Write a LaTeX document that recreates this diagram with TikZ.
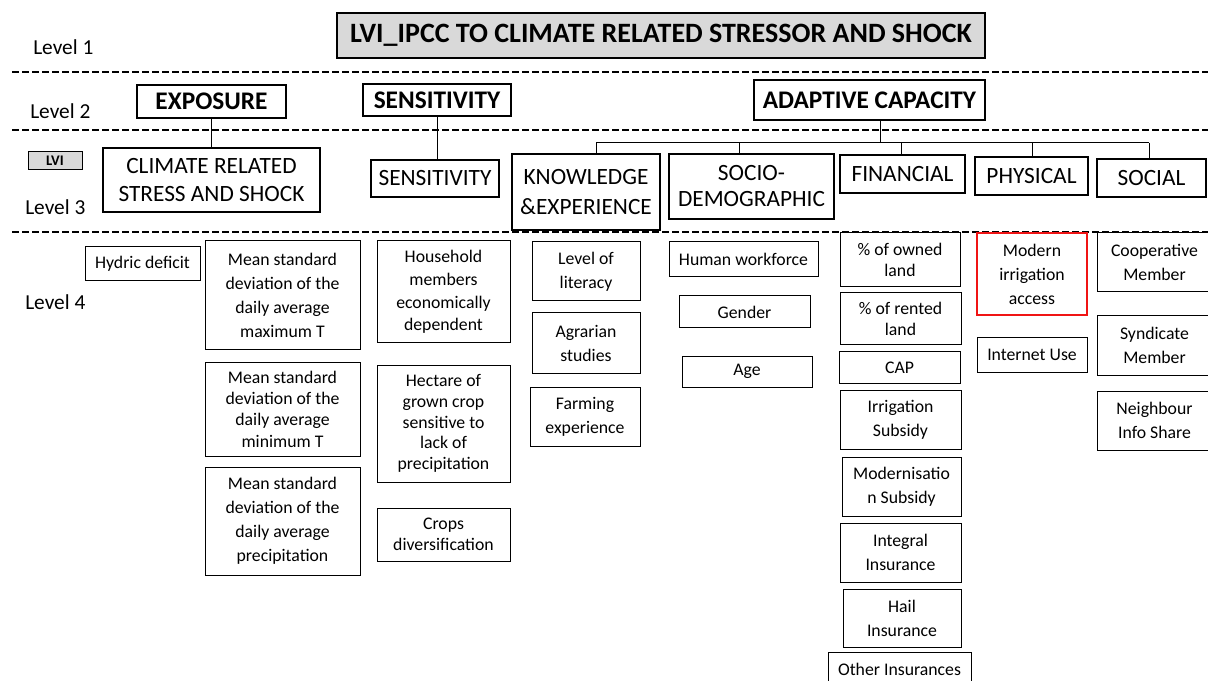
\documentclass[tikz,border=0pt]{standalone}
\usepackage{fontspec}
\setmainfont{Carlito}
\usetikzlibrary{positioning,calc}
\definecolor{titlegray}{RGB}{217,217,217}
\definecolor{markred}{RGB}{240,20,20}
\tikzset{
  wh/.style 2 args={minimum width=#1*0.75pt, minimum height=#2*0.75pt},
  lvl/.style={anchor=west, font=\fontsize{16}{18}\selectfont},
  topbox/.style={draw, fill=titlegray, line width=1pt, font=\bfseries\fontsize{21}{24}\selectfont},
  dimbox/.style={draw, line width=1pt, font=\bfseries\fontsize{19}{22}\selectfont},
  compbox/.style={draw, line width=0.9pt, align=center, font=\fontsize{17.5}{21}\selectfont},
  indbox/.style={draw, line width=0.75pt, align=center, font=\fontsize{13.3}{18}\selectfont},
  levelline/.style={line width=1.6pt, dash pattern=on 5pt off 2.5pt},
  link/.style={line width=0.75pt}
}
\begin{document}
\begin{tikzpicture}[x=0.75pt,y=-0.75pt]
\tikzstyle{every node}+=[inner sep=0pt]
\useasboundingbox (0,0) rectangle (1208,681);
\draw [levelline] (12,72) -- (1208,72);
\draw [levelline] (12,130) -- (1208,130);
\draw [levelline] (12,232) -- (1208,232);
\node [lvl] (l1) at (33,47) {Level 1};
\node [lvl] (l2) at (30,111) {Level 2};
\node [lvl] (l3) at (25,207) {Level 3};
\node [lvl] (l4) at (25,302) {Level 4};
\node [draw, fill=titlegray, line width=0.75pt, wh={54}{18}, font=\bfseries\fontsize{11}{12}\selectfont] (lvi) at (55,161) {LVI};
\node [topbox, wh={648}{45}] (title) at (661,35.5) {LVI\_IPCC TO CLIMATE RELATED STRESSOR AND SHOCK};
\node [dimbox, wh={149}{33}] (expo) at (211.5,101.5) {EXPOSURE};
\node [dimbox, wh={148}{32}] (sens) at (437,100) {SENSITIVITY};
\node [dimbox, wh={231}{40}] (adapt) at (869.5,100) {ADAPTIVE CAPACITY};
\node [compbox, wh={217}{64}] (climate) at (211.5,180) {CLIMATE RELATED\\STRESS AND SHOCK};
\node [compbox, wh={128}{37}] (sensc) at (435,178.5) {SENSITIVITY};
\node [compbox, wh={148}{76}, font=\fontsize{17.5}{23}\selectfont] (know) at (586,192) {KNOWLEDGE\\\&EXPERIENCE};
\node [compbox, wh={165}{65}, font=\fontsize{17.5}{19.5}\selectfont] (socio) at (751.5,186.5) {SOCIO-\\DEMOGRAPHIC};
\node [compbox, wh={125}{38}] (fin) at (902.5,174) {FINANCIAL};
\node [compbox, wh={113}{38}] (phys) at (1031.5,176) {PHYSICAL};
\node [compbox, wh={109}{38}] (social) at (1151.5,178) {SOCIAL};
\node [indbox, wh={115}{34}] (hydric) at (142.5,264) {Hydric deficit};
\node [indbox, wh={155}{109}] (maxt) at (282.5,295.5) {Mean standard\\deviation of the\\daily average\\maximum T};
\node [indbox, wh={155}{94}, font=\fontsize{13.3}{16}\selectfont] (mint) at (282.5,409) {Mean standard\\deviation of the\\daily average\\minimum T};
\node [indbox, wh={155}{108}] (prec) at (282.5,521) {Mean standard\\deviation of the\\daily average\\precipitation};
\node [indbox, wh={133}{102}, font=\fontsize{13.3}{17}\selectfont] (house) at (443.5,292) {Household\\members\\economically\\dependent};
\node [indbox, wh={133}{117}, font=\fontsize{13.3}{15.5}\selectfont] (hect) at (443.5,423.5) {Hectare of\\grown crop\\sensitive to\\lack of\\precipitation};
\node [indbox, wh={133}{53}, font=\fontsize{13.3}{16}\selectfont] (crops) at (443.5,534.5) {Crops\\diversification};
\node [indbox, wh={108}{59}] (liter) at (586,271.5) {Level of\\literacy};
\node [indbox, wh={108}{60}] (agra) at (586,343) {Agrarian\\studies};
\node [indbox, wh={110}{59}] (farm) at (585,416.5) {Farming\\experience};
\node [indbox, wh={149}{35}] (human) at (743.5,259.5) {Human workforce};
\node [indbox, wh={131}{32}] (gender) at (744.5,312) {Gender};
\node [indbox, wh={130}{31}] (age) at (747,371.5) {Age};
\node [indbox, wh={120}{54}, font=\fontsize{13.3}{16}\selectfont] (owned) at (900,260) {\% of owned\\land};
\node [indbox, wh={121}{52}, font=\fontsize{13.3}{16}\selectfont] (rented) at (900.5,319) {\% of rented\\land};
\node [indbox, wh={121}{31}] (cap) at (899.5,367.5) {CAP};
\node [indbox, wh={121}{59}] (irrsub) at (900.5,419.5) {Irrigation\\Subsidy};
\node [indbox, wh={119}{59}] (modsub) at (901.5,486.5) {Modernisatio\\n Subsidy};
\node [indbox, wh={121}{59}] (integ) at (900.5,552.5) {Integral\\Insurance};
\node [indbox, wh={118}{58}] (hail) at (902,618) {Hail\\Insurance};
\node [indbox, wh={143}{34}] (other) at (899.5,669) {Other Insurances};
\node [indbox, wh={110}{82}, draw=markred, line width=1.5pt] (modern) at (1032,274) {Modern\\irrigation\\access};
\node [indbox, wh={110}{34}] (internet) at (1032,355) {Internet Use};
\node [indbox, wh={115}{59}] (coop) at (1154.5,262.5) {Cooperative\\Member};
\node [indbox, wh={115}{59}] (synd) at (1154.5,345.5) {Syndicate\\Member};
\node [indbox, wh={115}{59}] (neigh) at (1154.5,420.5) {Neighbour\\Info Share};
\coordinate (hub) at (880,143);
\coordinate (bk) at (596,143);
\coordinate (bs) at (739,143);
\coordinate (bf) at (901,143);
\coordinate (bp) at (1032,143);
\coordinate (bo) at (1149,143);
\draw [link] (expo) -- (climate);
\draw [link] (sens.south) -- (sens.south |- sensc.north);
\draw [link] (hub |- adapt.south) -- (hub);
\draw [link] (bk) -- (bo);
\draw [link] (bk) -- (bk |- know.north);
\draw [link] (bs) -- (bs |- socio.north);
\draw [link] (bf) -- (bf |- fin.north);
\draw [link] (bp) -- (bp |- phys.north);
\draw [link] (bo) -- (bo |- social.north);
\end{tikzpicture}
\end{document}
